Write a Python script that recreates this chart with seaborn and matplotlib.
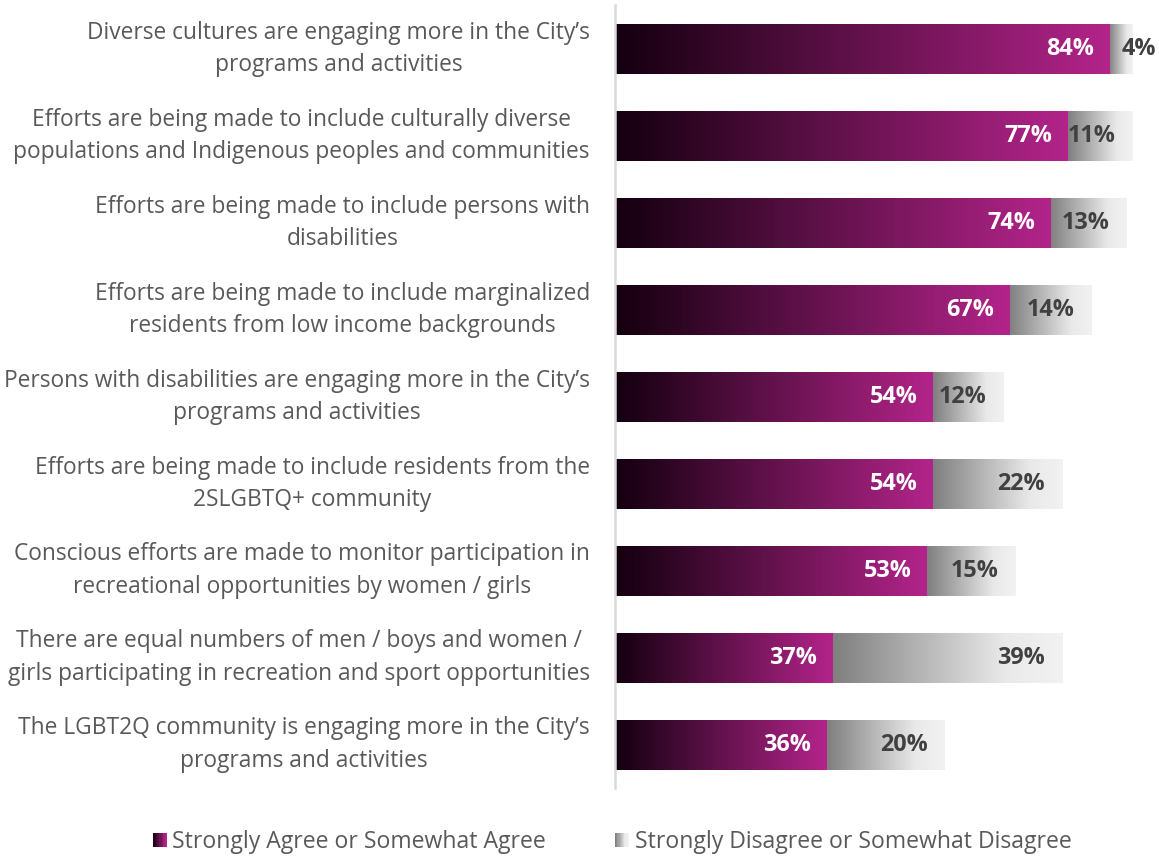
import numpy as np
import pandas as pd
import matplotlib
matplotlib.use("Agg")
import matplotlib.pyplot as plt
import seaborn as sns
from matplotlib.colors import LinearSegmentedColormap
from matplotlib.patches import Rectangle
from matplotlib.legend_handler import HandlerBase

categories = [
    "Diverse cultures are engaging more in the City\u2019s\nprograms and activities",
    "Efforts are being made to include culturally diverse\npopulations and Indigenous peoples and communities",
    "Efforts are being made to include persons with\ndisabilities",
    "Efforts are being made to include marginalized\nresidents from low income backgrounds",
    "Persons with disabilities are engaging more in the City\u2019s\nprograms and activities",
    "Efforts are being made to include residents from the\n2SLGBTQ+ community",
    "Conscious efforts are made to monitor participation in\nrecreational opportunities by women / girls",
    "There are equal numbers of men / boys and women /\ngirls participating in recreation and sport opportunities",
    "The LGBT2Q community is engaging more in the City\u2019s\nprograms and activities",
]
agree = [84, 77, 74, 67, 54, 54, 53, 37, 36]
disagree = [4, 11, 13, 14, 12, 22, 15, 39, 20]
series_names = ["Strongly Agree or Somewhat Agree", "Strongly Disagree or Somewhat Disagree"]

df = pd.DataFrame({"cat": categories, "agree": agree, "disagree": disagree})
df["total"] = df["agree"] + df["disagree"]

sns.set_style("white")
plt.rcParams["font.family"] = ["Open Sans", "DejaVu Sans"]

fig = plt.figure(figsize=(11.59, 8.57), dpi=100)
ax = fig.add_axes([0.5306, 0.0805, 0.4694, 0.9135])

agree_cmap = LinearSegmentedColormap.from_list("ag", ["#14000f", "#63124c", "#b3248a"])
dis_cmap = LinearSegmentedColormap.from_list("dg", [(0, "#7f7f7f"), (0.75, "#e9e9e9"), (1, "#f2f2f2")])

sns.barplot(data=df, x="total", y="cat", orient="h", width=0.575, color="#cccccc",
            ax=ax, errorbar=None, zorder=1)
sns.barplot(data=df, x="agree", y="cat", orient="h", width=0.575, color="#b3248a",
            ax=ax, errorbar=None, zorder=2)

grad = np.linspace(0, 1, 256).reshape(1, -1)
tot_bars = ax.containers[0]
ag_bars = ax.containers[1]
for i, p in enumerate(tot_bars):
    y0, h = p.get_y(), p.get_height()
    im = ax.imshow(grad, extent=[df["agree"][i], df["total"][i], y0 + h, y0], aspect="auto",
                   cmap=dis_cmap, zorder=1.5, interpolation="bilinear")
    im.set_clip_path(p)
    p.set_facecolor("none")
    p.set_edgecolor("none")
for i, p in enumerate(ag_bars):
    x0, y0, w, h = p.get_x(), p.get_y(), p.get_width(), p.get_height()
    im = ax.imshow(grad, extent=[x0, x0 + w, y0 + h, y0], aspect="auto",
                   cmap=agree_cmap, zorder=2.5, interpolation="bilinear")
    im.set_clip_path(p)
    p.set_facecolor("none")
    p.set_edgecolor("none")

# labels
vfs = 16.8
for i in range(len(categories)):
    ax.annotate(f"{agree[i]}%", xy=(agree[i], i), xytext=(-11, 0), textcoords="offset points",
                ha="right", va="center", color="white", fontsize=vfs, fontweight="bold", zorder=5)
    seg = disagree[i]
    if seg < 8:
        ax.annotate(f"{disagree[i]}%", xy=(agree[i], i), xytext=(9, 0), textcoords="offset points",
                    ha="left", va="center", color="#404040", fontsize=vfs, fontweight="bold", zorder=5,
                    annotation_clip=False)
    else:
        ax.annotate(f"{disagree[i]}%", xy=(agree[i] + disagree[i], i), xytext=(-12, 0),
                    textcoords="offset points", ha="right", va="center", color="#404040",
                    fontsize=vfs, fontweight="bold", zorder=5)

ax.set_xlim(0, 92.5)
ax.set_ylim(8.5, -0.5)
ax.set_xlabel("")
ax.set_ylabel("")
ax.set_xticks([])
ax.tick_params(axis="y", length=0, pad=18, labelsize=16.4, labelcolor="#595959")
for lbl in ax.get_yticklabels():
    lbl.set_multialignment("center")
    lbl.set_linespacing(1.45)
    lbl.set_verticalalignment("center")
for s in ["top", "right", "bottom"]:
    ax.spines[s].set_visible(False)
ax.spines["left"].set_color("#d9d9d9")
ax.spines["left"].set_linewidth(1.8)


class GradHandler(HandlerBase):
    def __init__(self, cmap):
        super().__init__()
        self.cmap = cmap

    def create_artists(self, legend, orig_handle, xdescent, ydescent, width, height, fontsize, trans):
        n = 12
        arts = []
        for k in range(n):
            r = Rectangle((-xdescent + width * k / n, -ydescent), width / n + 0.3, height,
                          facecolor=self.cmap(k / (n - 1)), edgecolor="none", transform=trans)
            arts.append(r)
        return arts


h1 = Rectangle((0, 0), 1, 1)
h2 = Rectangle((0, 0), 1, 1, facecolor="gray")
fig.legend([h1, h2], series_names, loc="center", bbox_to_anchor=(0.528, 0.0175), ncol=2,
           frameon=False, fontsize=16.6, labelcolor="#595959", handlelength=0.6, handleheight=0.6,
           handletextpad=0.25, columnspacing=3.0,
           handler_map={h1: GradHandler(agree_cmap), h2: GradHandler(dis_cmap)})

fig.savefig("out.png", dpi=100)
